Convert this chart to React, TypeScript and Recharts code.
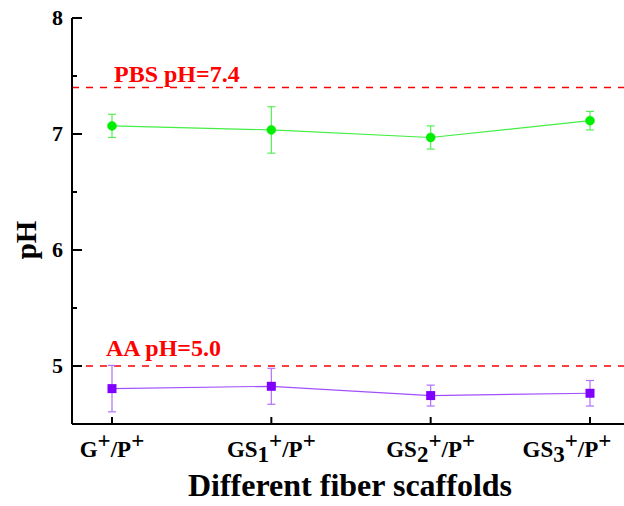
import { LineChart, Line, XAxis, YAxis, ErrorBar, ReferenceLine } from 'recharts';

const scaffolds = ['G', 'GS1', 'GS2', 'GS3'];
const scaffoldBase = ['G', 'GS', 'GS', 'GS'];
const scaffoldSub = ['', '1', '2', '3'];

const phHigh = [7.07, 7.035, 6.97, 7.115];
const phHighErr = [0.1, 0.2, 0.1, 0.08];
const phLow = [4.805, 4.825, 4.745, 4.765];
const phLowErr = [0.2, 0.155, 0.09, 0.11];

const yTicks = [4.5, 5, 5.5, 6, 6.5, 7, 7.5, 8];

const data = scaffolds.map((name, i) => ({
  name,
  base: scaffoldBase[i],
  sub: scaffoldSub[i],
  high: phHigh[i],
  highErr: phHighErr[i],
  low: phLow[i],
  lowErr: phLowErr[i],
}));

const W = 624;
const H = 506;
const FONT = '"Liberation Serif", "Times New Roman", serif';

function YTick({ x, y, payload }: any) {
  const axisX = x + 9;
  const major = Number.isInteger(payload.value);
  return (
    <g>
      <line x1={axisX} y1={y} x2={axisX + (major ? 10 : 5)} y2={y} stroke="#000" strokeWidth={2} />
      {major ? (
        <text x={x} y={y + 7} textAnchor="end" fontFamily={FONT} fontWeight="bold" fontSize={22} fill="#000">
          {payload.value}
        </text>
      ) : null}
    </g>
  );
}

function XTick({ x, y, payload, index }: any) {
  const d = data[index] || data.find((r) => r.name === payload.value);
  // keep the last label inside the picture, as in the original
  const cx = Math.min(x, W - 57);
  return (
    <g>
      <line x1={x} y1={y} x2={x} y2={y - 7} stroke="#000" strokeWidth={2} />
      <text x={cx} y={y + 33} textAnchor="middle" fontFamily={FONT} fontWeight="bold" fontSize={23} fill="#000">
        <tspan>{d.base}</tspan>
        {d.sub ? <tspan dy={5}>{d.sub}</tspan> : null}
        <tspan dy={d.sub ? -14 : -9}>+</tspan>
        <tspan dy={9}>/P</tspan>
        <tspan dy={-9}>+</tspan>
      </text>
    </g>
  );
}

function RefText({ viewBox, value, dx, dy }: any) {
  return (
    <text x={viewBox.x + dx} y={viewBox.y + dy} fontFamily={FONT} fontWeight="bold" fontSize={24} fill="#ff0000">
      {value}
    </text>
  );
}

function SquareDot({ cx, cy, index }: any) {
  return <rect key={`sq-${index}`} x={cx - 4.5} y={cy - 4.5} width={9} height={9} fill="#8000ff" />;
}

export default function App() {
  return (
    <div style={{ position: 'absolute', left: 0, top: 0, background: '#fff' }}>
      <LineChart width={W} height={H} data={data} margin={{ top: 18, right: 0, left: 0, bottom: 0 }}>
        <XAxis
          dataKey="name"
          height={82}
          padding={{ left: 40, right: 34 }}
          interval={0}
          tickSize={0}
          tickMargin={0}
          tickLine={false}
          axisLine={{ stroke: '#000', strokeWidth: 2 }}
          tick={<XTick />}
        />
        <XAxis
          xAxisId="top"
          dataKey="name"
          orientation="top"
          height={0}
          tick={false}
          tickLine={false}
          padding={{ left: 40, right: 34 }}
          axisLine={{ stroke: '#000', strokeWidth: 2 }}
        />
        <YAxis
          width={72}
          domain={[4.5, 8]}
          ticks={yTicks}
          interval={0}
          tickSize={0}
          tickMargin={9}
          tickLine={false}
          axisLine={{ stroke: '#000', strokeWidth: 2 }}
          tick={<YTick />}
        />
        <ReferenceLine
          y={7.4}
          stroke="#ff0000"
          strokeWidth={1.5}
          strokeDasharray="7 7"
          label={<RefText value="PBS pH=7.4" dx={42} dy={-6} />}
        />
        <ReferenceLine
          y={5}
          stroke="#ff0000"
          strokeWidth={1.5}
          strokeDasharray="7 7"
          label={<RefText value="AA pH=5.0" dx={34} dy={-10} />}
        />
        <Line
          dataKey="high"
          stroke="#44ee44"
          strokeWidth={1.2}
          dot={{ r: 4.5, fill: '#00ee00', stroke: '#00ee00', strokeWidth: 0.5 }}
          activeDot={false}
          isAnimationActive={false}
        >
          <ErrorBar dataKey="highErr" width={4} stroke="#55ee55" strokeWidth={1.2} isAnimationActive={false} />
        </Line>
        <Line
          dataKey="low"
          stroke="#a050ff"
          strokeWidth={1.2}
          dot={<SquareDot />}
          activeDot={false}
          isAnimationActive={false}
        >
          <ErrorBar dataKey="lowErr" width={4} stroke="#b070ff" strokeWidth={1.2} isAnimationActive={false} />
        </Line>
        <text
          x={26}
          y={240}
          transform="rotate(-90 26 240)"
          textAnchor="middle"
          dominantBaseline="central"
          fontFamily={FONT}
          fontWeight="bold"
          fontSize={29}
          fill="#000"
        >
          pH
        </text>
        <text x={350} y={496} textAnchor="middle" fontFamily={FONT} fontWeight="bold" fontSize={32} fill="#000">
          Different fiber scaffolds
        </text>
      </LineChart>
    </div>
  );
}
